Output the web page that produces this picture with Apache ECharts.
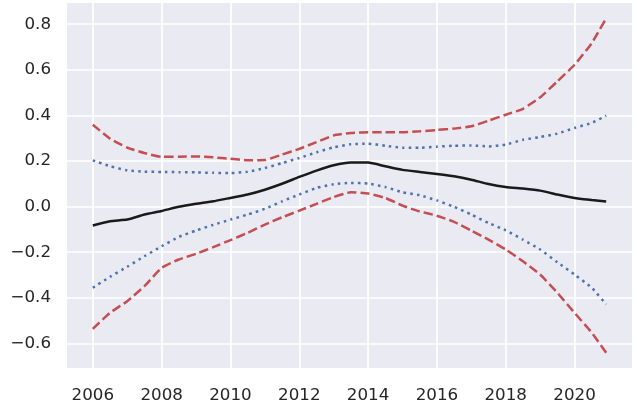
<!DOCTYPE html>
<html>
<head>
<meta charset="utf-8">
<script src="https://cdn.jsdelivr.net/npm/echarts@6/dist/echarts.min.js"></script>
<style>
html,body{margin:0;padding:0;background:#fff;}
#chart{width:635px;height:409px;}
</style>
</head>
<body>
<div id="chart"></div>
<script>
const years = [2006,2006.5,2007,2007.5,2008,2008.5,2009,2009.5,2010,2010.5,2011,2011.5,2012,2012.5,2013,2013.5,2014,2014.5,2015,2015.5,2016,2016.5,2017,2017.5,2018,2018.5,2019,2019.5,2020,2020.5,2020.92];
const meanLine = [-0.083,-0.064,-0.057,-0.035,-0.019,-0.001,0.012,0.023,0.038,0.053,0.074,0.10,0.13,0.158,0.181,0.193,0.193,0.177,0.161,0.152,0.143,0.133,0.118,0.099,0.086,0.079,0.070,0.053,0.038,0.029,0.022];
const upperRed = [0.359,0.298,0.259,0.235,0.218,0.219,0.22,0.216,0.21,0.203,0.204,0.228,0.253,0.283,0.312,0.323,0.326,0.326,0.326,0.33,0.336,0.342,0.352,0.377,0.403,0.429,0.479,0.549,0.622,0.717,0.826];
const upperBlue = [0.203,0.177,0.159,0.153,0.152,0.151,0.150,0.148,0.147,0.153,0.169,0.191,0.213,0.238,0.26,0.273,0.276,0.267,0.258,0.258,0.263,0.267,0.268,0.264,0.272,0.293,0.305,0.32,0.345,0.367,0.399];
const lowerBlue = [-0.356,-0.308,-0.264,-0.218,-0.174,-0.133,-0.105,-0.080,-0.057,-0.035,-0.010,0.023,0.053,0.082,0.098,0.104,0.101,0.086,0.063,0.05,0.027,-0.001,-0.035,-0.072,-0.104,-0.145,-0.188,-0.244,-0.298,-0.356,-0.429];
const lowerRed = [-0.536,-0.466,-0.415,-0.349,-0.269,-0.232,-0.207,-0.178,-0.147,-0.115,-0.079,-0.047,-0.018,0.012,0.042,0.063,0.057,0.038,0.004,-0.021,-0.04,-0.067,-0.105,-0.145,-0.188,-0.24,-0.298,-0.378,-0.466,-0.553,-0.641];
const xTicks = [2006,2008,2010,2012,2014,2016,2018,2020];
const yTicks = [-0.6,-0.4,-0.2,0.0,0.2,0.4,0.6,0.8];

const pair = arr => years.map((x,i)=>[x,arr[i]]);
const chart = echarts.init(document.getElementById('chart'), null, {renderer:'canvas'});
const font = {fontFamily:'"DejaVu Sans", sans-serif', fontSize:16.7, color:'#262626'};
const mk = (name, arr, color, type, width) => ({
  name, type:'line', data: pair(arr), showSymbol:false, smooth:0.15,
  lineStyle:{color, width, type}, z: 3
});
chart.setOption({
  animation:false,
  backgroundColor:'#ffffff',
  grid:{left:67,right:3,top:3,bottom:41,show:true,backgroundColor:'#EAEAF2',borderWidth:0},
  xAxis:{
    type:'value', min:2005.25, max:2021.67,
    axisLine:{show:false},
    axisTick:{show:false, customValues:xTicks},
    axisLabel:Object.assign({customValues:xTicks, margin:19, formatter:v=>String(Math.round(v))}, font),
    splitLine:{show:true, lineStyle:{color:'#ffffff', width:1.7}}
  },
  yAxis:{
    type:'value', min:-0.708, max:0.893,
    axisLine:{show:false},
    axisTick:{show:false, customValues:yTicks},
    axisLabel:Object.assign({customValues:yTicks, margin:16, formatter:v=>{const s=Math.abs(v).toFixed(1); return (v< -1e-9?'\u2212':'')+s;}}, font),
    splitLine:{show:true, lineStyle:{color:'#ffffff', width:1.7}}
  },
  series:[
    mk('upperRed', upperRed, '#C44E52', [9.3,4], 2.5),
    mk('lowerRed', lowerRed, '#C44E52', [9.3,4], 2.5),
    mk('upperBlue', upperBlue, '#4C72B0', [2.5,4.2], 2.5),
    mk('lowerBlue', lowerBlue, '#4C72B0', [2.5,4.2], 2.5),
    mk('mean', meanLine, '#1a1a1a', 'solid', 2.5)
  ]
});
</script>
</body>
</html>
